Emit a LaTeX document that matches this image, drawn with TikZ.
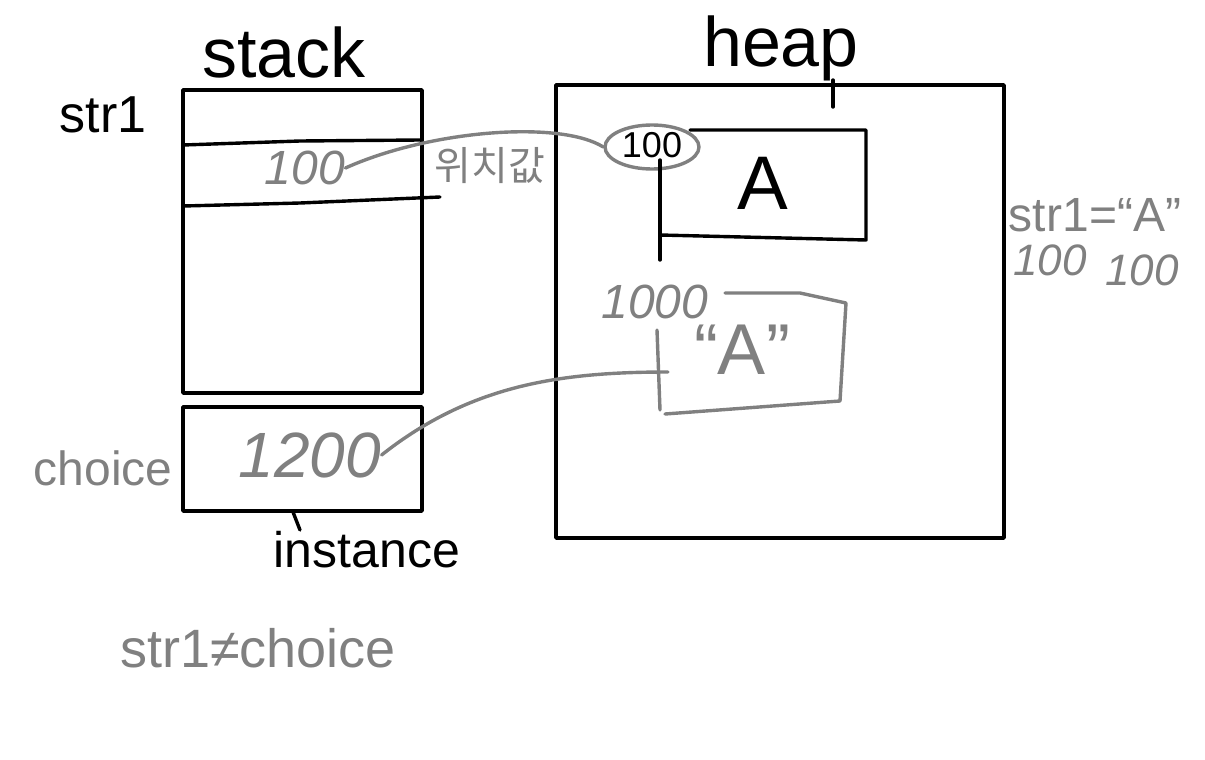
\documentclass[tikz,border=0pt]{standalone}
\usepackage{fontspec}
\setmainfont{Liberation Sans}
\newfontfamily\kofont{Noto Sans CJK KR}
\usetikzlibrary{positioning,shapes.geometric}
\definecolor{cInk}{HTML}{000000}
\definecolor{cPen}{HTML}{808080}
\tikzset{
  ink/.style   = {draw=cInk, line width=1.7pt, line cap=round, line join=round},
  pen/.style   = {draw=cPen, line width=1.7pt, line cap=round, line join=round},
  title/.style = {font=\fontsize{35}{35}\selectfont, text=cInk, inner sep=0pt},
  lbl/.style   = {font=\fontsize{22}{22}\selectfont, text=cInk, inner sep=0pt},
  note/.style  = {font=\fontsize{22}{22}\selectfont, text=cPen, inner sep=0pt},
  addr/.style  = {font=\fontsize{32}{32}\selectfont\itshape, text=cPen, inner sep=0pt},
  oval/.style  = {ellipse, draw=cPen, line width=1.7pt, minimum width=47pt,
                  minimum height=22pt, inner sep=0pt},
}

\begin{document}
\begin{tikzpicture}[x=0.5pt, y=-0.5pt]
  \useasboundingbox (0,0) rectangle (1205,760);

  % stack side
  \node[title] (stack) at (284,52) {stack};
  \draw[ink] (183,90) rectangle (422,393);
  \draw[ink] (183,145) -- (300,141) -- (420,140);
  \draw[ink] (183,206) -- (300,203) -- (440,197);
  \node[lbl, font=\fontsize{26}{26}\selectfont] (str1) at (103,115) {str1};
  \node[note, font=\fontsize{24}{24}\selectfont\itshape] (v100) at (305,168) {100};

  \draw[ink] (183,407) rectangle (422,511);
  \node[note, font=\fontsize{24}{24}\selectfont] (choice) at (103,468) {choice};
  \node[addr] (v1200) at (310,455) {1200};
  \node[lbl, font=\fontsize{25}{25}\selectfont] (inst) at (367,550) {instance};
  \draw[ink] (293,512) -- (300,530);
  \node[note, font=\fontsize{27}{27}\selectfont] (neq) at (258,648) {str1≠choice};

  % heap side
  \node[title] (heap) at (781,48) {heap};
  \draw[ink] (833,80) -- (833,107);
  \draw[ink] (556,85) rectangle (1004,538);

  \node[oval] (ref) at (652,147) {};
  \node[lbl, font=\fontsize{18}{18}\selectfont] (h100) at (652,145) {100};
  \node[title, font=\fontsize{38}{38}\selectfont] (valA) at (763,183) {A};
  \draw[ink] (690,130) -- (866,130) -- (866,240) -- (660,235);
  \draw[ink] (660,160) -- (660,260);

  \node[note, font=\fontsize{24}{24}\selectfont\itshape] (h1000) at (655,302) {1000};
  \node[note, font=\fontsize{36}{36}\selectfont] (strA) at (742,350) {“A”};
  \draw[pen] (725,293) -- (800,293) -- (846,303) -- (840,401) -- (665,414);
  \draw[pen] (657,330) -- (660,410);
  \coordinate (box2) at (668,372);

  % labels on the right
  \node[note, font=\fontsize{24}{24}\selectfont] (eqA) at (1095,215) {str1=“A”};
  \node[note, font=\fontsize{22}{22}\selectfont\itshape] (r1) at (1050,260) {100};
  \node[note, font=\fontsize{22}{22}\selectfont\itshape] (r2) at (1142,270) {100};

  % references
  \draw[pen] (v100.east) .. controls (430,130) and (560,120) .. (ref.west)
    node[pos=0.5, below=3pt, text=cPen, font=\kofont\fontsize{20}{20}\selectfont] (pos) {위치값};
  \draw[pen] (v1200.east) .. controls (470,385) and (560,372) .. (box2);
\end{tikzpicture}
\end{document}
